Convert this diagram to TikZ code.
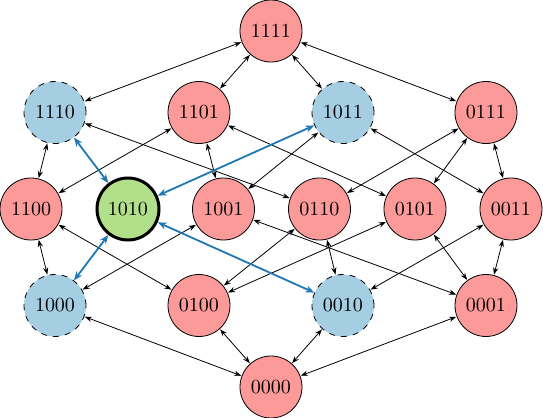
\documentclass[tikz,border=0pt]{standalone}
\usetikzlibrary{arrows.meta}
\definecolor{pred}{HTML}{FB9A99}
\definecolor{pblue}{HTML}{A6CEE3}
\definecolor{pgreen}{HTML}{B2DF8A}
\definecolor{dblue}{HTML}{1F78B4}
\tikzset{
  st/.style={circle,draw=black,line width=0.4pt,minimum size=31pt,inner sep=0pt,font=\fontsize{10}{12}\selectfont},
  rednode/.style={st,fill=pred},
  bluenode/.style={st,fill=pblue,dashed},
  greennode/.style={st,fill=pgreen,line width=1.5pt},
  edge/.style={{Stealth[length=3.6pt,width=2.6pt]}-{Stealth[length=3.6pt,width=2.6pt]},line width=0.4pt,shorten <=0.2pt,shorten >=0.2pt},
  bedge/.style={{Stealth[length=4.5pt,width=3.5pt]}-{Stealth[length=4.5pt,width=3.5pt]},line width=0.9pt,draw=dblue},
}
\begin{document}
\begin{tikzpicture}[x=0.5pt,y=-0.5pt]
\useasboundingbox (0,0) rectangle (543,418);
% row 0
\node[rednode] (n1111) at (271,31) {1111};
% row 1
\node[bluenode] (n1110) at (55,112.5) {1110};
\node[rednode] (n1101) at (199,112.5) {1101};
\node[bluenode] (n1011) at (343,112.5) {1011};
\node[rednode] (n0111) at (486,112.5) {0111};
% row 2
\node[rednode] (n1100) at (31,209) {1100};
\node[greennode] (n1010) at (128,209) {1010};
\node[rednode] (n1001) at (223.5,209) {1001};
\node[rednode] (n0110) at (319.5,209) {0110};
\node[rednode] (n0101) at (415,209) {0101};
\node[rednode] (n0011) at (511,209) {0011};
% row 3
\node[bluenode] (n1000) at (55,305.5) {1000};
\node[rednode] (n0100) at (199,305.5) {0100};
\node[bluenode] (n0010) at (343,305.5) {0010};
\node[rednode] (n0001) at (486,305.5) {0001};
% row 4
\node[rednode] (n0000) at (271,387) {0000};
% black edges
\foreach \a/\b in {1111/0111,1111/1011,1111/1101,1111/1110,
  1110/0110,1110/1100,
  1101/0101,1101/1001,1101/1100,
  1011/0011,1011/1001,
  0111/0011,0111/0101,0111/0110,
  1100/0100,1100/1000,
  1001/0001,1001/1000,
  0110/0010,0110/0100,
  0101/0001,0101/0100,
  0011/0001,0011/0010,
  1000/0000,0100/0000,0010/0000,0001/0000}
  \draw[edge] (n\a) -- (n\b);
% blue edges
\foreach \b in {1110,1000,1011,0010}
  \draw[bedge] (n1010) -- (n\b);
\end{tikzpicture}
\end{document}
